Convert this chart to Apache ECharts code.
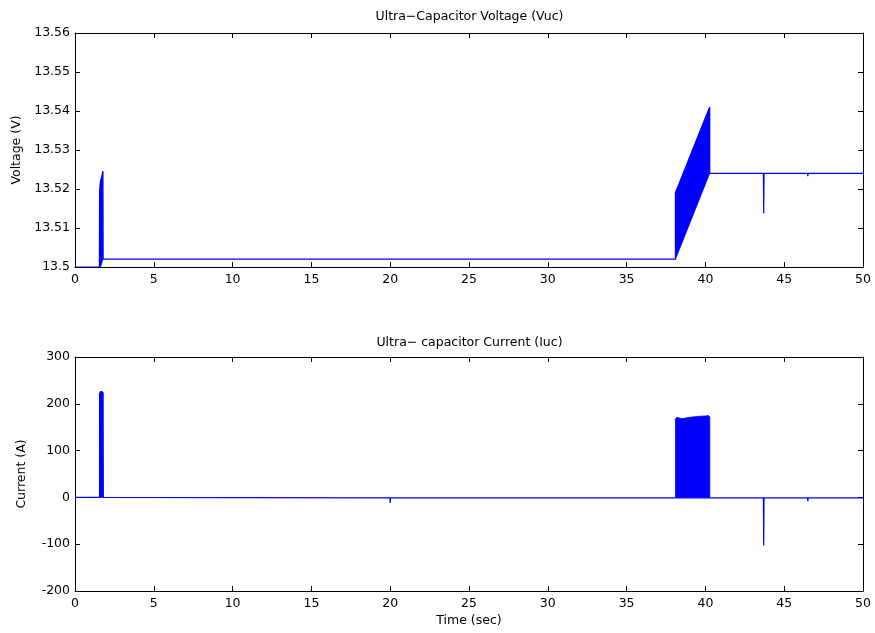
<!DOCTYPE html>
<html><head><meta charset="utf-8">
<script src="https://cdn.jsdelivr.net/npm/echarts@6/dist/echarts.min.js"></script>
<style>html,body{margin:0;padding:0;background:#fff}#c{width:875px;height:633px}</style>
</head><body><div id="c"></div>
<script>
// ---- Data ----
const timeTicks = [0,5,10,15,20,25,30,35,40,45,50];
// Voltage trace (time in s, voltage in V)
const vTime  = [0, 1.55, 1.56, 1.62, 1.70, 1.76, 1.78, 38.10, 38.10, 40.27, 40.27, 43.68, 43.70, 43.72, 46.48, 46.50, 46.52, 50];
const vValue = [13.5, 13.5, 13.519, 13.522, 13.523, 13.5245, 13.502, 13.502, 13.519, 13.541, 13.524, 13.524, 13.5137, 13.524, 13.524, 13.5233, 13.524, 13.524];
// Voltage oscillation envelopes
const vBand1Time = [1.56, 1.62, 1.70, 1.77];
const vBand1Low  = [13.5, 13.5, 13.501, 13.502];
const vBand1High = [13.519, 13.522, 13.523, 13.5245];
const vBand2Time = [38.10, 40.27];
const vBand2Low  = [13.502, 13.524];
const vBand2High = [13.519, 13.541];
// Current trace (time in s, current in A)
const iTime  = [0, 1.56, 1.56, 1.62, 1.75, 1.79, 1.80, 19.98, 20.00, 20.02, 38.10, 40.28, 40.30, 43.68, 43.70, 43.72, 46.48, 46.50, 46.52, 50];
const iValue = [0, 0, 220, 226, 225, 0, -1, -1, -12, -1, -1, -1, -1, -1, -103, -1, -1, -8, -1, -1];
// Current oscillation envelopes
const iBand1Time = [1.56, 1.62, 1.75, 1.79];
const iBand1Low  = [0, 0, 0, 0];
const iBand1High = [220, 226, 225, 224];
const iBand2Time = [38.10, 38.20, 38.50, 39.00, 39.50, 40.00, 40.20, 40.28];
const iBand2Low  = [0, 0, 0, 0, 0, 0, 0, 0];
const iBand2High = [168, 171, 168, 171, 173, 174, 175, 172];

const BLUE = '#0000ff';
const FONT = '"DejaVu Sans", Verdana, sans-serif';
const FS = 12.5;

const chart = echarts.init(document.getElementById('c'));

function pairs(xs, ys){ return xs.map((x,k)=>[x, ys[k]]); }

function band(xi, yi, T, LO, HI){
  return {
    type:'custom', xAxisIndex:xi, yAxisIndex:yi, silent:true, animation:false, clip:true,
    data:[[T[0], LO[0]]],
    renderItem:(params, api)=>{
      const pts=[];
      for(let k=0;k<T.length;k++) pts.push(api.coord([T[k], LO[k]]));
      for(let k=T.length-1;k>=0;k--) pts.push(api.coord([T[k], HI[k]]));
      return {type:'polygon', shape:{points:pts}, style:{fill:BLUE, stroke:BLUE, lineWidth:0.8}};
    }
  };
}

const axisLine = {show:true, onZero:false, lineStyle:{color:'#000', width:1}};
const tick = {show:true, inside:true, length:5, lineStyle:{color:'#000'}};
const lbl = {color:'#000', fontFamily:FONT, fontSize:FS};

function xAx(grid, pos, showLabels, name){
  return {type:'value', gridIndex:grid, position:pos, min:0, max:50, interval:5,
    axisLine, axisTick:tick, splitLine:{show:false},
    axisLabel: showLabels ? Object.assign({margin:6}, lbl) : {show:false},
    name: name || '', nameLocation:'middle', nameGap:23,
    nameTextStyle:{color:'#000', fontFamily:FONT, fontSize:FS}};
}
function yAx(grid, pos, showLabels, min, max, interval, name, gap, fmt){
  return {type:'value', gridIndex:grid, position:pos, min, max, interval,
    axisLine, axisTick:tick, splitLine:{show:false},
    axisLabel: showLabels ? Object.assign({margin:5, formatter:fmt}, lbl) : {show:false},
    name: name || '', nameLocation:'middle', nameGap:gap || 0, nameRotate:90,
    nameTextStyle:{color:'#000', fontFamily:FONT, fontSize:FS}};
}
const vFmt = v => String(parseFloat(v.toFixed(2)));
const iFmt = v => String(Math.round(v));

chart.setOption({
  backgroundColor:'#fff',
  animation:false,
  graphic:[
    {type:'text', x:469.5, y:17, style:{text:'Ultra\u2212Capacitor Voltage (Vuc)', fill:'#000', font:FS+'px '+FONT, textAlign:'center', textVerticalAlign:'middle'}},
    {type:'text', x:469.5, y:343, style:{text:'Ultra\u2212 capacitor Current (Iuc)', fill:'#000', font:FS+'px '+FONT, textAlign:'center', textVerticalAlign:'middle'}}
  ],
  grid:[
    {left:75, top:33, width:788, height:234},
    {left:75, top:357, width:788, height:234}
  ],
  xAxis:[
    xAx(0,'bottom',true), xAx(0,'top',false),
    xAx(1,'bottom',true,'Time (sec)'), xAx(1,'top',false)
  ],
  yAxis:[
    yAx(0,'left',true,13.5,13.56,0.01,'Voltage (V)',51,vFmt), yAx(0,'right',false,13.5,13.56,0.01),
    yAx(1,'left',true,-200,300,100,'Current (A)',47,iFmt), yAx(1,'right',false,-200,300,100)
  ],
  series:[
    band(0,0,vBand1Time,vBand1Low,vBand1High),
    band(0,0,vBand2Time,vBand2Low,vBand2High),
    {type:'line', xAxisIndex:0, yAxisIndex:0, data:pairs(vTime,vValue), showSymbol:false, symbol:'none',
      lineStyle:{color:BLUE, width:1.2}, silent:true, animation:false},
    band(2,2,iBand1Time,iBand1Low,iBand1High),
    band(2,2,iBand2Time,iBand2Low,iBand2High),
    {type:'line', xAxisIndex:2, yAxisIndex:2, data:pairs(iTime,iValue), showSymbol:false, symbol:'none',
      lineStyle:{color:BLUE, width:1.2}, silent:true, animation:false}
  ]
});
</script></body></html>
